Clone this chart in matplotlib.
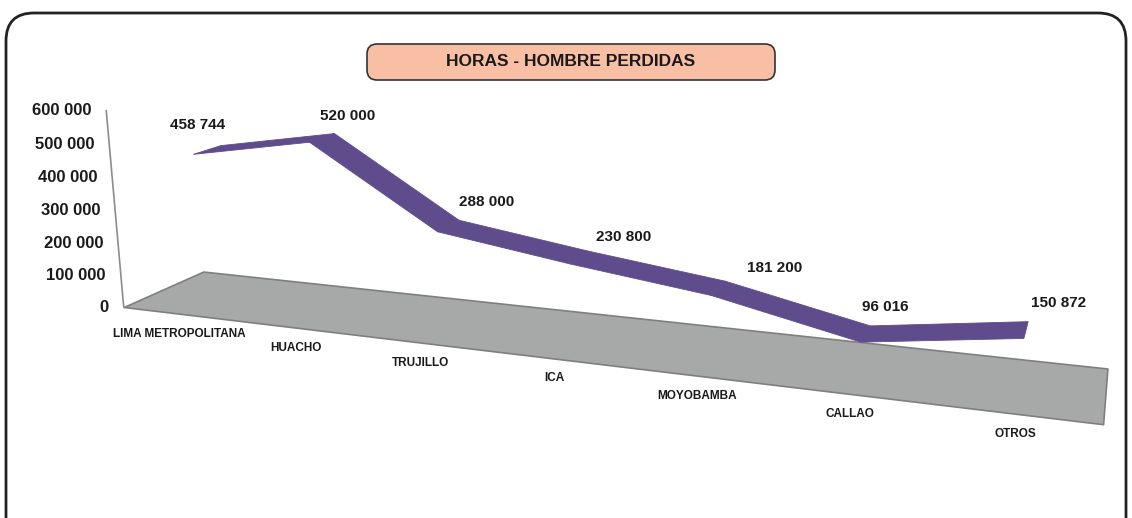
import numpy as np
import matplotlib
matplotlib.use('Agg')
import matplotlib.pyplot as plt
import matplotlib.transforms as mtransforms
from matplotlib.patches import FancyBboxPatch
from mpl_toolkits.mplot3d import proj3d
from mpl_toolkits.mplot3d.art3d import Poly3DCollection

W, H = 1132, 518

categories = ['LIMA METROPOLITANA', 'HUACHO', 'TRUJILLO', 'ICA', 'MOYOBAMBA', 'CALLAO', 'OTROS']
horas = [458744, 520000, 288000, 230800, 181200, 96016, 150872]
yticks = [0, 100000, 200000, 300000, 400000, 500000, 600000]

# depth of the ribbon inside the floor (0 = front, 1 = back)
rib_front, rib_back = 0.31, 0.655
# pixel nudges of the value labels from the back edge of the ribbon
label_dx = [-23, 13, 28, 35, 50, 15, 30]
label_dy = [21, 18, 18, 14, 13, 19, 19]

fig = plt.figure(figsize=(W / 100, H / 100), dpi=100)

# rounded frame round the whole chart (bottom runs off the picture)
frame = FancyBboxPatch((6, -40), 1120, 40 + H - 13, boxstyle='round,pad=0,rounding_size=28',
                       transform=mtransforms.IdentityTransform(), facecolor='none',
                       edgecolor='#222222', linewidth=2, zorder=5)
fig.patches.append(frame)

ax = fig.add_axes([0.0532, -0.4527, 0.8942, 1.9541], projection='3d', computed_zorder=False)
ax.set_proj_type('persp', focal_length=0.2672)
ax.view_init(14.486, -69.306, 0.401)
ax.set_box_aspect((4.6623, 0.6856, 1))
ax.set_axis_off()
ax.patch.set_alpha(0)

n = len(categories)
xs = np.arange(n)

# grey floor
floor = [[(-0.5, 0, 0), (n - 0.5, 0, 0), (n - 0.5, 1, 0), (-0.5, 1, 0)]]
floor_pc = Poly3DCollection(floor, facecolor='#a7a9a8', edgecolor='#7f7f7f', linewidth=1.2)
ax.add_collection3d(floor_pc)
floor_pc.set_clip_on(False)
# value axis
ax.plot([-0.5, -0.5], [0, 0], [0, 600000], color='#8c8c8c', linewidth=1.2)

# purple ribbon
quads = []
for i in range(n - 1):
    quads.append([(xs[i], rib_front, horas[i]), (xs[i + 1], rib_front, horas[i + 1]),
                  (xs[i + 1], rib_back, horas[i + 1]), (xs[i], rib_back, horas[i])])
rib_pc = Poly3DCollection(quads, facecolor='#5e4c8c', edgecolor='#5e4c8c', linewidth=0.6)
ax.add_collection3d(rib_pc)
rib_pc.set_clip_on(False)

ax.set_xlim(-0.5, n - 0.5)
ax.set_ylim(0, 1)
ax.set_zlim(0, 600000)

M = ax.get_proj()


def label(x, y, z, s, dx, dy, **kw):
    u, v, _ = proj3d.proj_transform(x, y, z, M)
    ax.annotate(s, (u, v), xytext=(dx, dy), textcoords='offset pixels',
                annotation_clip=False, color='#1a1a1a', fontweight='bold', **kw)


num_font = ['Liberation Sans', 'DejaVu Sans']

for val in yticks:
    label(-0.5, 0, val, f'{val:,}'.replace(',', ' '), -15, 0, ha='right', va='center',
          fontsize=12, family=num_font)
for i, val in enumerate(horas):
    label(xs[i], rib_back, val, f'{val:,}'.replace(',', ' '), label_dx[i], label_dy[i],
          ha='center', va='center', fontsize=11, family=num_font)
for i, cat in enumerate(categories):
    label(xs[i], 0, 0, cat, 0, -20, ha='center', va='center', fontsize=8.5, family=num_font)

# title box
tbox = FancyBboxPatch((367, H - 80), 408, 36, boxstyle='round,pad=0,rounding_size=10',
                      transform=mtransforms.IdentityTransform(), facecolor='#f9bfa5',
                      edgecolor='#333333', linewidth=1.2, zorder=5)
fig.patches.append(tbox)
fig.text(571 / W, 1 - 62 / H, 'HORAS - HOMBRE PERDIDAS', ha='center', va='center',
         fontsize=12.5, fontweight='bold', family=num_font, color='#1a1a1a', zorder=6)

fig.savefig('out.png', dpi=100)
